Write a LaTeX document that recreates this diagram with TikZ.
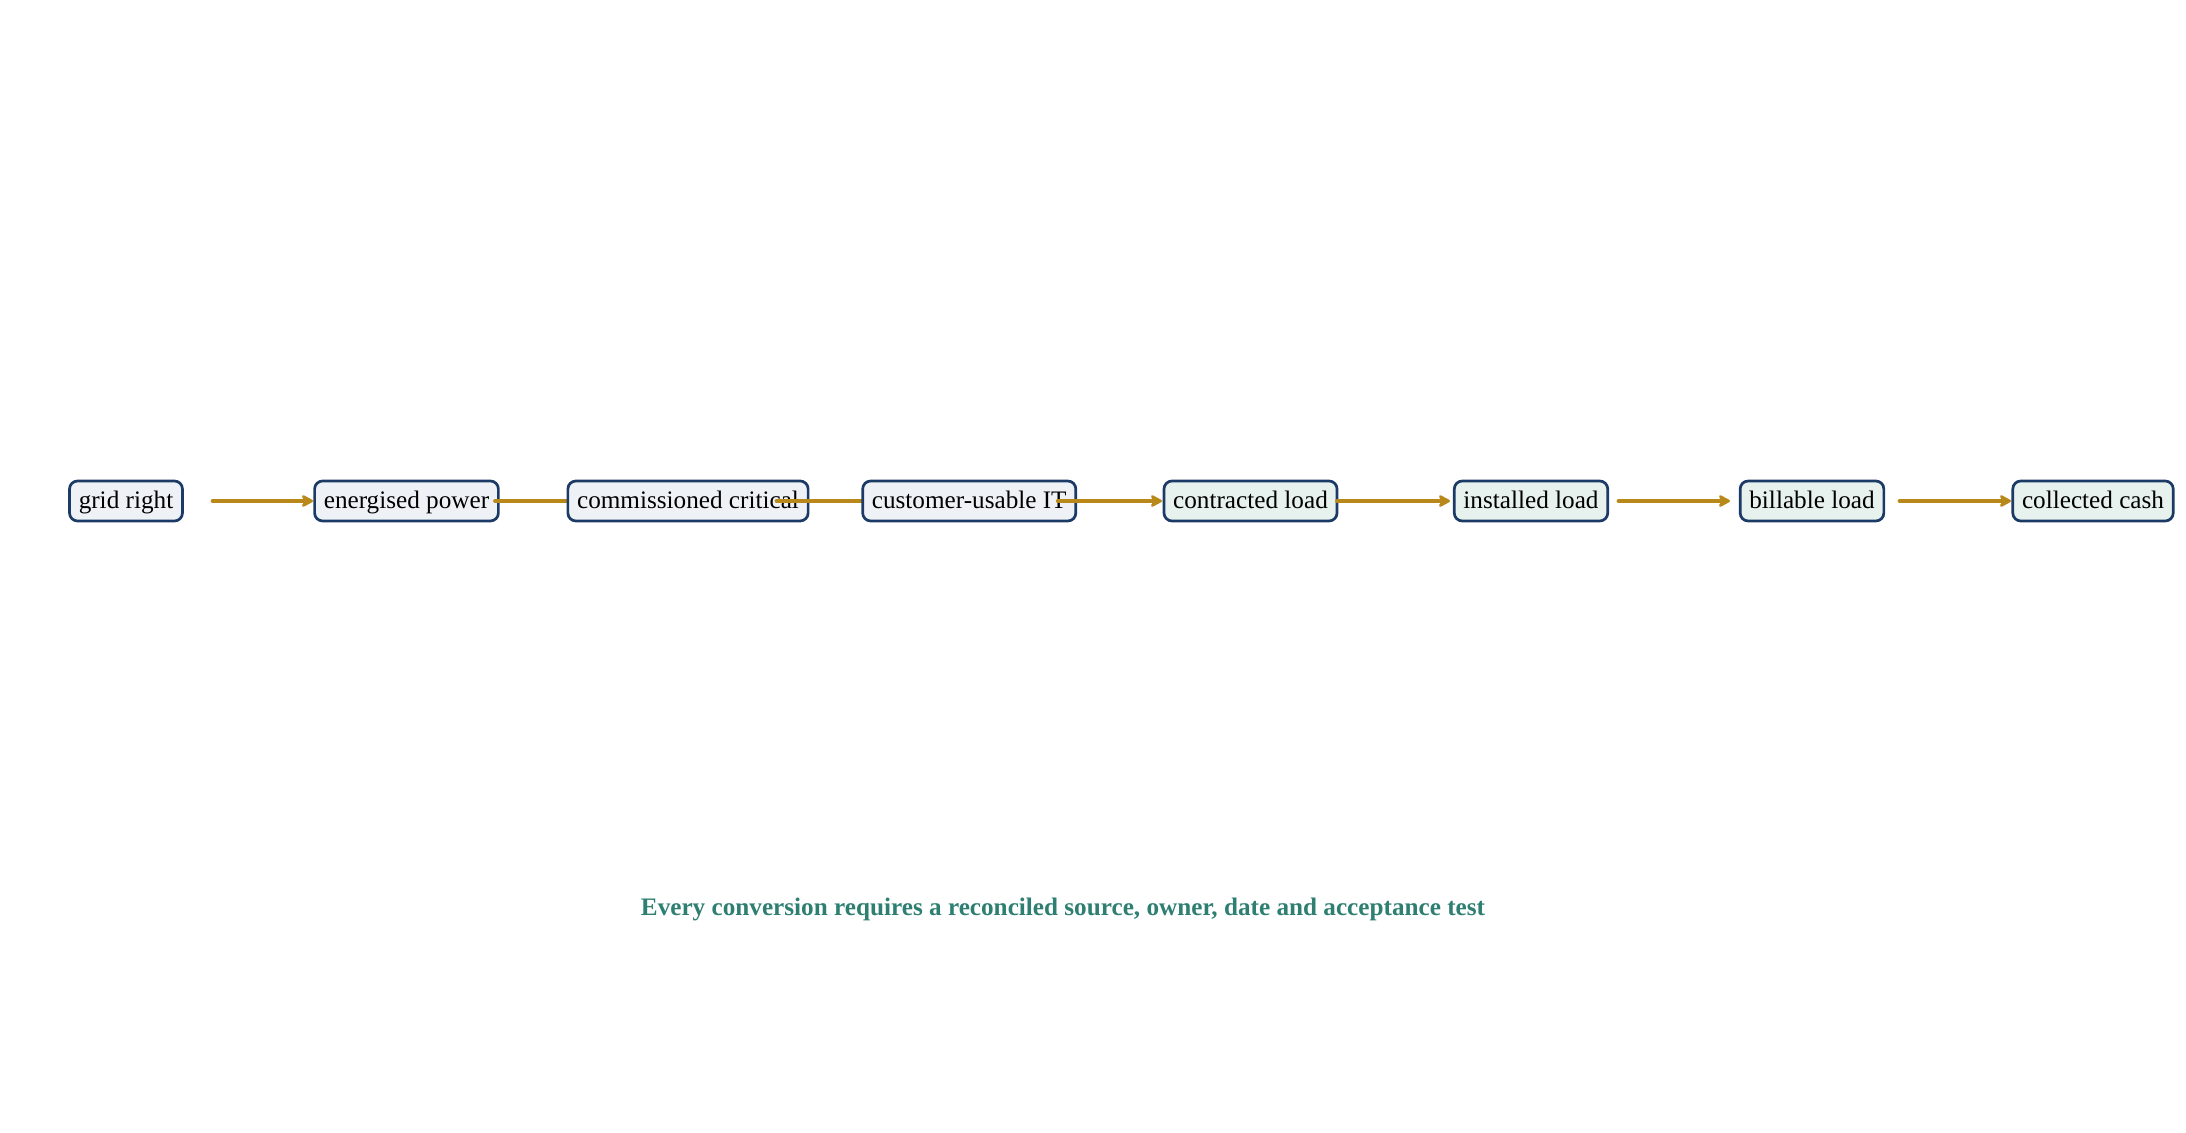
\documentclass[tikz,border=0pt]{standalone}
\usepackage{fontspec}
\setmainfont{Liberation Serif}
\usetikzlibrary{arrows.meta}
\definecolor{navy}{HTML}{1B3A66}
\definecolor{fillA}{HTML}{EEF2F7}
\definecolor{fillB}{HTML}{E7F1ED}
\definecolor{gold}{HTML}{B8891A}
\definecolor{teal}{HTML}{2E7F72}
\tikzset{
  box/.style={draw=navy, line width=1.35bp, rounded corners=4bp, minimum height=20bp,
    inner xsep=4.6bp, inner ysep=0bp, text height=8.5bp, text depth=1bp,
    font=\fontsize{12.6bp}{15bp}\selectfont, text=black},
  boxA/.style={box, fill=fillA},
  boxB/.style={box, fill=fillB},
  flow/.style={draw=gold, line width=2.4bp, line cap=round,
    -{Stealth[length=7bp, width=7.5bp, inset=2bp, round]}}
}
\begin{document}
\begin{tikzpicture}[x=0.5bp, y=-0.5bp]
\useasboundingbox (0,0) rectangle (2186,1133);
\coordinate (t1) at (313,501);
\coordinate (t2) at (596,501);
\coordinate (t3) at (877,501);
\coordinate (t4) at (1162,501);
\coordinate (t5) at (1450,501);
\coordinate (t6) at (1730,501);
\coordinate (t7) at (2011,501);
\node[boxA] (n1) at (126,501) {grid right};
\draw[flow] ([xshift=43.5bp]n1.center) -- (t1);
\node[boxA] (n2) at (406.5,501) {energised power};
\draw[flow] ([xshift=44.5bp]n2.center) -- (t2);
\node[boxA] (n3) at (688,501) {commissioned critical};
\draw[flow] ([xshift=44.5bp]n3.center) -- (t3);
\node[boxA] (n4) at (969.25,501) {customer-usable IT};
\draw[flow] ([xshift=44.5bp]n4.center) -- (t4);
\node[boxB] (n5) at (1250.5,501) {contracted load};
\draw[flow] ([xshift=43.5bp]n5.center) -- (t5);
\node[boxB] (n6) at (1531,501) {installed load};
\draw[flow] ([xshift=44bp]n6.center) -- (t6);
\node[boxB] (n7) at (1812,501) {billable load};
\draw[flow] ([xshift=44bp]n7.center) -- (t7);
\node[boxB] (n8) at (2093,501) {collected cash};
\node[text=teal, font=\bfseries\fontsize{12.6bp}{15bp}\selectfont] (cap) at (1063,909) {Every conversion requires a reconciled source, owner, date and acceptance test};
\end{tikzpicture}
\end{document}
